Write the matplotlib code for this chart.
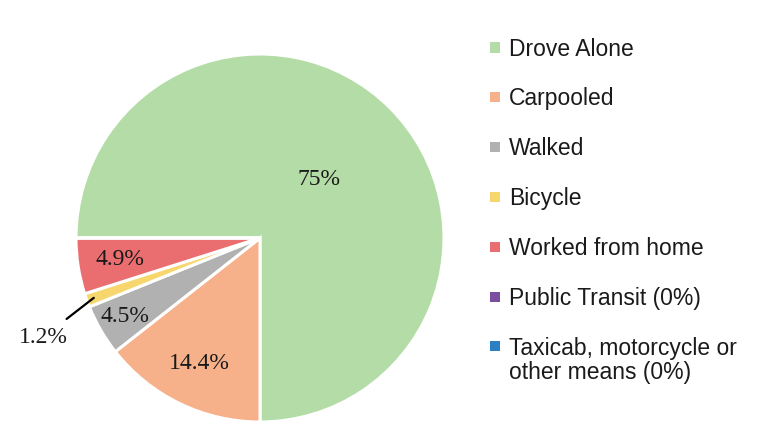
import numpy as np
import matplotlib.pyplot as plt
from matplotlib.patches import Rectangle

# Data
categories = ['Drove Alone', 'Carpooled', 'Walked', 'Bicycle', 'Worked from home',
              'Public Transit (0%)', 'Taxicab, motorcycle or\nother means (0%)']
shares = [75, 14.4, 4.5, 1.2, 4.9, 0, 0]
pct_labels = ['75%', '14.4%', '4.5%', '1.2%', '4.9%', '', '']
colors = ['#b4dca6', '#f6b08a', '#b1b1b1', '#f8d66e', '#ea6d70', '#7a4fa0', '#2a80c2']

W, H = 773, 437
fig = plt.figure(figsize=(W / 100, H / 100), dpi=100)

# pie axes placed in pixels: centre (260, 238), radius 184
cx, cy, r = 260, 238, 184
ax = fig.add_axes([(cx - r) / W, (H - cy - r) / H, 2 * r / W, 2 * r / H])
wedges, _ = ax.pie(shares, colors=colors, startangle=180, counterclock=False,
                   radius=1, wedgeprops=dict(edgecolor='white', linewidth=2.2))
ax.set_xlim(-1, 1)
ax.set_ylim(-1, 1)
ax.axis('off')

# percentage labels
label_dist = [0.45, 0.76, 0.85, None, 0.77]
serif = 'Liberation Serif'
for w, txt, d in zip(wedges, pct_labels, label_dist):
    if not txt:
        continue
    mid = np.deg2rad((w.theta1 + w.theta2) / 2)
    if d is None:
        # small slice: label outside with a leader line
        ax.annotate(txt, xy=(0.96 * np.cos(mid), 0.96 * np.sin(mid)),
                    xytext=(-1.18, -0.54), fontsize=17, family=serif,
                    ha='center', va='center', color='#1a1a1a',
                    arrowprops=dict(arrowstyle='-', color='black', lw=1.6,
                                    shrinkA=6, shrinkB=0))
    else:
        ax.text(d * np.cos(mid), d * np.sin(mid), txt, fontsize=17, family=serif,
                ha='center', va='center', color='#1a1a1a')

# legend drawn by hand
y0, pitch, line_h = 47.5, 49.8, 25
for i, (lab, col) in enumerate(zip(categories, colors)):
    yc = y0 + i * pitch
    fig.add_artist(Rectangle(((495 - 5) / W, (H - yc - 5) / H), 10 / W, 10 / H,
                             transform=fig.transFigure, color=col, lw=0))
    extra = lab.count('\n') * line_h  # baseline of multi-line text is the last line
    fig.text(509 / W, (H - yc - 8 - extra) / H, lab, fontsize=16.5,
             family='Liberation Sans', ha='left', va='baseline',
             color='#1a1a1a', linespacing=1.09)

fig.savefig('out.png', dpi=100)
